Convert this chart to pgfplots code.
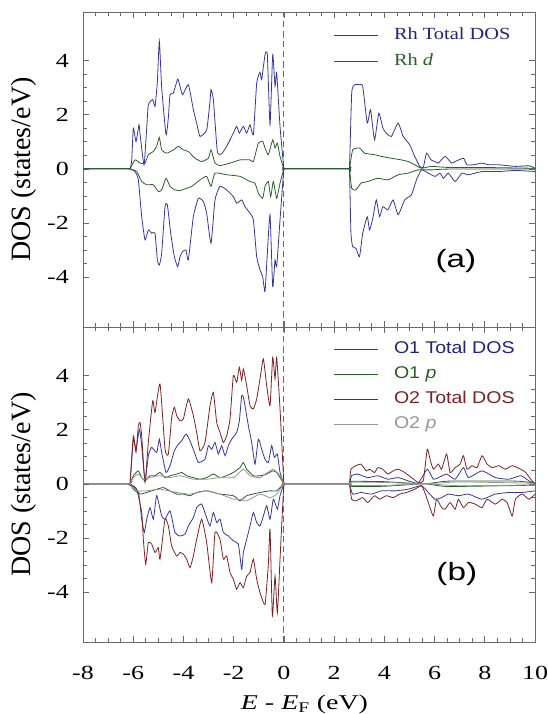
\documentclass[border=0pt]{standalone}
\usepackage{pgfplots}
\pgfplotsset{compat=1.18}
\usepackage{graphicx}
\usepackage{fontspec}
\setmainfont{Liberation Serif}
\newfontfamily\arial{Liberation Sans}
\definecolor{rhblue}{RGB}{55,55,145}
\definecolor{txtblue}{RGB}{35,35,120}
\definecolor{dgreen}{RGB}{40,95,40}
\definecolor{ored}{RGB}{120,35,35}
\definecolor{ogray}{RGB}{150,150,150}
\definecolor{framec}{RGB}{105,105,105}
\pgfplotsset{
 dosaxis/.style={
  scale only axis, width=452pt, height=315pt,
  xmin=-8, xmax=10, ymin=-5.85, ymax=5.8,
  xtick={-8,-6,...,10}, ytick={-4,-2,0,2,4},
  minor x tick num=3, minor y tick num=3,
  tick align=inside, major tick length=6pt, minor tick length=4pt,
  every tick/.style={framec, line width=0.6pt},
  axis line style={framec, line width=0.8pt},
  /pgf/number format/assume math mode=true,
  yticklabel={\scalebox{1.3}[1]{\pgfmathprintnumber{\tick}}},
  yticklabel style={font=\fontsize{20}{24}\selectfont, anchor=east, inner sep=0pt, xshift=-14pt},
  ylabel={DOS (states/eV)},
  ylabel style={font=\fontsize{28}{32}\selectfont, at={(axis description cs:-0.1305,0.5)}, anchor=center},
  legend cell align=left,
  legend image code/.code={\draw[##1, line width=1.1pt] (0pt,-1pt) -- (44pt,-1pt);},
  legend style={draw=none, fill=none, anchor=north west, column sep=9pt},
  every axis plot/.append style={line width=0.8pt, smooth, tension=0.3},
 }
}
\begin{document}
\begin{tikzpicture}
\path[use as bounding box] (0,0) rectangle (547pt,714pt);
% ---------------- panel (a)
\begin{axis}[dosaxis, at={(83pt,387pt)}, anchor=south west, xticklabels={},
  legend style={at={(0.548,0.963)}, row sep=8.9pt, font=\fontsize{17}{20}\selectfont}]
\addplot[forget plot, framec, dashed, dash pattern=on 6pt off 4pt] coordinates {(0,-5.85) (0,5.8)};
\addplot[rhblue] coordinates {(-8,0) (-6.2,0) (-6.128,0) (-6.061,0.3) (-5.995,1.51) (-5.889,1.01) (-5.769,1.63) (-5.729,1.3) (-5.570,0.15) (-5.464,1.5) (-5.398,2.37) (-5.225,2.56) (-5.132,2.31) (-5.040,3.2) (-4.960,4.72) (-4.867,3.0) (-4.694,1.26) (-4.601,1.9) (-4.535,2.74) (-4.402,2.80) (-4.229,3.32) (-4.137,3.05) (-4.030,2.74) (-3.805,3.11) (-3.606,2.19) (-3.473,1.69) (-3.340,1.20) (-3.075,1.44) (-2.942,2.5) (-2.902,2.93) (-2.809,2.56) (-2.650,0.64) (-2.477,0.56) (-2.278,0.83) (-2.013,1.32) (-1.880,1.57) (-1.774,1.32) (-1.614,1.57) (-1.482,1.32) (-1.349,1.63) (-1.216,1.26) (-1.083,3.17) (-0.951,3.57) (-0.884,3.30) (-0.752,4.22) (-0.659,4.22) (-0.552,1.63) (-0.446,4.22) (-0.353,3.05) (-0.287,3.54) (-0.154,1.57) (0,0) (0.06,0) (2.55,0)
(2.61,0) (2.70,2.80) (2.81,3.11) (3.01,3.11) (3.14,3.05) (3.32,1.69) (3.45,2.19) (3.61,1.07) (3.78,2.06) (3.94,1.51) (4.08,1.32) (4.28,1.20) (4.55,1.69) (4.75,1.20) (5.01,0.89) (5.21,0.46) (5.41,0.09) (5.55,0.05) (5.68,0.58) (5.86,0.33) (6.02,0.27) (6.15,0.21) (6.42,0.46) (6.68,0.21) (6.82,0.27) (7.15,0.39) (7.29,0.15) (7.55,0.15) (7.89,0.21) (8.16,0.15) (8.56,0.15) (9.22,0.09) (9.76,0.11) (10,0.02)};
\addlegendentry{\hspace*{4pt}\textcolor{txtblue}{\scalebox{1.2}[1]{Rh Total DOS}}}
\addplot[rhblue, forget plot] coordinates {(-8,0) (-6.2,0) (-6.128,0) (-5.929,-0.10) (-5.796,-0.41) (-5.663,-1.77) (-5.530,-2.63) (-5.398,-2.26) (-5.265,-2.38) (-5.132,-2.38) (-5.039,-3.37) (-4.960,-3.56) (-4.867,-3.12) (-4.734,-1.40) (-4.641,-1.33) (-4.508,-2.38) (-4.362,-3.25) (-4.229,-3.62) (-4.137,-3.25) (-4.030,-3.06) (-3.898,-3.00) (-3.805,-3.37) (-3.606,-1.77) (-3.406,-1.09) (-3.207,-1.21) (-3.075,-1.64) (-2.902,-2.75) (-2.743,-1.15) (-2.544,-0.65) (-2.278,-0.78) (-2.013,-1.03) (-1.880,-1.27) (-1.681,-1.15) (-1.548,-1.40) (-1.349,-1.64) (-1.216,-1.89) (-1.083,-3.25) (-0.951,-3.74) (-0.844,-3.99) (-0.752,-4.54) (-0.659,-3.12) (-0.552,-1.70) (-0.446,-4.36) (-0.353,-3.37) (-0.287,-3.62) (-0.154,-1.89) (0,0) (0.06,0) (2.55,0)
(2.61,0) (2.67,-2.38) (2.74,-2.88) (2.87,-2.94) (3.01,-3.25) (3.14,-2.38) (3.32,-1.77) (3.41,-2.26) (3.54,-1.83) (3.68,-1.15) (3.81,-1.77) (3.94,-1.40) (4.14,-1.52) (4.35,-1.15) (4.55,-1.70) (4.81,-1.15) (5.08,-0.96) (5.28,-0.41) (5.48,-0.04) (5.75,-0.16) (6.02,-0.28) (6.22,-0.16) (6.35,-0.35) (6.55,-0.16) (6.82,-0.47) (7.09,-0.16) (7.35,-0.22) (7.89,-0.10) (8.56,-0.10) (9.22,-0.06) (10,-0.10)};
\addplot[dgreen] coordinates {(-8,0) (-6.2,0) (-6.128,0) (-5.929,0.33) (-5.729,0.21) (-5.530,0.21) (-5.398,0.52) (-5.198,0.64) (-5.066,0.83) (-4.960,1.16) (-4.867,0.70) (-4.668,0.58) (-4.402,0.70) (-4.203,0.83) (-4.004,0.70) (-3.805,0.64) (-3.539,0.39) (-3.274,0.27) (-3.008,0.39) (-2.902,0.70) (-2.743,0.21) (-2.544,0.12) (-2.145,0.21) (-1.747,0.33) (-1.349,0.33) (-1.216,0.27) (-1.017,0.95) (-0.844,1.01) (-0.752,0.77) (-0.619,0.52) (-0.446,1.07) (-0.353,0.77) (-0.260,0.95) (-0.154,0.46) (0,0) (0.06,0) (2.55,0)
(2.61,0) (2.74,0.70) (3.01,0.77) (3.21,0.58) (3.61,0.52) (3.88,0.46) (4.28,0.39) (4.68,0.33) (4.95,0.27) (5.21,0.15) (5.48,0.02) (5.88,0.09) (6.55,0.05) (7.89,0.05) (10,0.02)};
\addlegendentry{\hspace*{4pt}\textcolor{dgreen}{\scalebox{1.2}[1]{Rh \textit{d}}}}
\addplot[dgreen, forget plot] coordinates {(-8,0) (-6.2,0) (-6.128,0) (-5.862,-0.10) (-5.663,-0.47) (-5.464,-0.59) (-5.198,-0.59) (-4.999,-0.84) (-4.867,-0.78) (-4.694,-0.35) (-4.535,-0.65) (-4.336,-0.78) (-4.137,-0.80) (-3.871,-0.72) (-3.672,-0.65) (-3.340,-0.41) (-3.075,-0.28) (-2.902,-0.65) (-2.743,-0.16) (-2.278,-0.22) (-1.747,-0.28) (-1.349,-0.47) (-1.150,-0.53) (-1.017,-0.90) (-0.844,-1.09) (-0.752,-0.65) (-0.619,-0.47) (-0.526,-1.03) (-0.420,-0.47) (-0.287,-1.09) (-0.154,-0.53) (0,0) (0.06,0) (2.55,0)
(2.61,0) (2.70,-0.72) (2.87,-0.78) (3.07,-0.53) (3.34,-0.47) (3.74,-0.35) (4.14,-0.41) (4.55,-0.22) (4.95,-0.16) (5.35,-0.04) (5.88,-0.04) (6.55,-0.01) (10,-0.01)};
\node at (rel axis cs:0.825,0.21) {\arial\fontsize{25}{30}\selectfont\scalebox{1.33}[1]{(a)}};
\end{axis}
% ---------------- panel (b)
\begin{axis}[dosaxis, at={(83pt,72pt)}, anchor=south west,
  xticklabel={\scalebox{1.3}[1]{\pgfmathprintnumber{\tick}}},
  xticklabel style={font=\fontsize{20}{24}\selectfont, anchor=base, yshift=-38pt},
  xlabel={\scalebox{1.33}[1]{\textit{E} - \textit{E}\textsubscript{F} (eV)}},
  xlabel style={font=\fontsize{21}{24}\selectfont, at={(axis description cs:0.49,0)}, anchor=base, yshift=-67pt},
  legend style={at={(0.548,0.968)}, row sep=7.4pt, font=\arial\fontsize{17}{20}\selectfont}]
\addplot[forget plot, framec, dashed, dash pattern=on 6pt off 4pt] coordinates {(0,-5.85) (0,5.8)};
\addplot[rhblue] coordinates {(-8,0) (-6.2,0) (-6.128,0) (-5.995,1.65) (-5.889,1.28) (-5.756,2.02) (-5.663,1.41) (-5.530,0.11) (-5.398,1.04) (-5.265,1.35) (-5.066,1.16) (-4.960,1.65) (-4.867,1.16) (-4.694,0.42) (-4.535,0.67) (-4.362,1.22) (-4.203,1.47) (-4.070,1.59) (-3.898,1.84) (-3.738,1.59) (-3.539,1.10) (-3.406,0.79) (-3.141,0.91) (-3.008,1.41) (-2.875,1.28) (-2.743,1.53) (-2.610,1.10) (-2.477,1.41) (-2.344,1.04) (-2.212,1.41) (-2.079,1.65) (-1.880,1.90) (-1.774,2.33) (-1.681,3.26) (-1.614,3.20) (-1.548,2.89) (-1.415,2.15) (-1.283,1.53) (-1.150,0.73) (-1.017,1.65) (-0.884,1.28) (-0.752,0.91) (-0.619,0.79) (-0.486,1.41) (-0.380,0.98) (-0.260,1.10) (-0.154,0.42) (0,0) (0.06,0) (2.55,0)
(2.61,0) (2.70,0.30) (2.94,0.36) (3.34,0.23) (3.74,0.30) (4.14,0.17) (4.55,0.23) (4.95,0.11) (5.35,0.03) (5.71,0.54) (5.95,0.17) (6.15,0.23) (6.48,0.36) (6.82,0.17) (7.15,0.60) (7.35,0.23) (7.89,0.48) (8.42,0.23) (8.96,0.17) (9.43,0.30) (9.76,0.11) (10,0)};
\addlegendentry{\hspace*{4pt}\textcolor{txtblue}{\scalebox{1.15}[1]{O1 Total DOS}}}
\addplot[rhblue, forget plot] coordinates {(-8,0) (-6.2,0) (-6.128,0) (-5.796,-0.32) (-5.663,-1.31) (-5.557,-1.80) (-5.464,-1.31) (-5.331,-0.88) (-5.198,-1.31) (-5.066,-0.44) (-4.867,-1.19) (-4.734,-1.31) (-4.535,-1.00) (-4.336,-1.80) (-4.137,-1.93) (-3.937,-1.86) (-3.805,-1.56) (-3.606,-1.25) (-3.473,-0.88) (-3.274,-0.75) (-3.075,-1.25) (-2.942,-1.56) (-2.809,-1.06) (-2.676,-1.43) (-2.544,-1.31) (-2.411,-1.80) (-2.212,-1.93) (-2.013,-2.11) (-1.813,-2.23) (-1.681,-3.16) (-1.614,-2.54) (-1.482,-2.05) (-1.349,-1.56) (-1.216,-1.06) (-1.083,-1.43) (-0.951,-1.56) (-0.818,-1.19) (-0.685,-0.81) (-0.552,-1.31) (-0.420,-0.57) (-0.260,-0.94) (-0.154,-0.44) (0,0) (0.06,0) (2.55,0)
(2.61,0) (2.74,-0.38) (3.07,-0.32) (3.48,-0.38) (3.88,-0.26) (4.41,-0.26) (4.95,-0.20) (5.48,-0.07) (5.75,-0.32) (6.02,-0.57) (6.28,-0.51) (6.55,-0.38) (6.95,-0.44) (7.35,-0.38) (7.89,-0.57) (8.42,-0.38) (8.96,-0.32) (9.49,-0.32) (10,-0.26)};
\addplot[dgreen] coordinates {(-8,0) (-6.2,0) (-6.128,0) (-5.995,0.30) (-5.796,0.48) (-5.663,0.23) (-5.530,0.11) (-5.331,0.30) (-5.132,0.30) (-4.933,0.42) (-4.734,0.23) (-4.535,0.30) (-4.269,0.36) (-4.070,0.42) (-3.871,0.30) (-3.606,0.23) (-3.340,0.17) (-3.075,0.23) (-2.809,0.36) (-2.544,0.23) (-2.278,0.30) (-2.013,0.42) (-1.747,0.60) (-1.614,0.79) (-1.482,0.54) (-1.216,0.30) (-0.951,0.30) (-0.685,0.36) (-0.446,0.48) (-0.287,0.42) (-0.154,0.23) (0,0) (0.06,0) (2.55,0)
(2.61,0) (2.67,0.09) (4.0,0.08) (5.6,0.0) (6.55,0.10) (9.22,0.10) (10,0.03)};
\addlegendentry{\hspace*{4pt}\textcolor{dgreen}{\scalebox{1.15}[1]{O1 \textit{p}}}}
\addplot[dgreen, forget plot] coordinates {(-8,0) (-6.2,0) (-6.128,0) (-5.995,-0.20) (-5.729,-0.38) (-5.464,-0.32) (-5.066,-0.20) (-4.800,-0.14) (-4.535,-0.26) (-4.269,-0.38) (-4.004,-0.38) (-3.738,-0.44) (-3.473,-0.32) (-3.075,-0.26) (-2.544,-0.38) (-2.013,-0.44) (-1.747,-0.63) (-1.482,-0.44) (-0.951,-0.32) (-0.552,-0.26) (-0.287,-0.26) (0,0) (0.06,0) (2.55,0)
(2.61,0) (2.70,-0.10) (4.0,-0.09) (5.6,0) (6.55,-0.10) (10,-0.05)};
\addplot[ored] coordinates {(-8,0) (-6.2,0) (-6.128,0) (-5.995,1.78) (-5.889,1.16) (-5.796,2.15) (-5.729,2.27) (-5.663,1.78) (-5.530,0.05) (-5.398,1.53) (-5.225,3.07) (-5.132,2.64) (-4.933,3.69) (-4.734,1.28) (-4.601,1.10) (-4.468,2.46) (-4.362,2.83) (-4.269,2.52) (-4.137,2.33) (-4.004,2.40) (-3.805,3.14) (-3.606,2.52) (-3.473,1.90) (-3.340,1.22) (-3.141,1.53) (-2.942,2.89) (-2.809,3.38) (-2.676,2.27) (-2.544,1.90) (-2.411,1.53) (-2.278,1.78) (-2.145,2.40) (-2.013,4.00) (-1.880,3.75) (-1.774,4.31) (-1.681,3.82) (-1.614,4.25) (-1.482,3.63) (-1.349,2.89) (-1.216,2.77) (-1.083,3.14) (-0.951,3.88) (-0.818,4.62) (-0.685,3.63) (-0.552,2.89) (-0.446,4.68) (-0.353,3.88) (-0.287,4.68) (-0.154,2.77) (0,0) (0.06,0) (2.55,0)
(2.61,0) (2.67,0.54) (2.87,0.67) (3.07,0.73) (3.28,0.48) (3.41,0.54) (3.61,0.42) (3.74,0.60) (3.94,0.54) (4.14,0.36) (4.35,0.48) (4.55,0.54) (4.81,0.42) (5.08,0.23) (5.35,0.05) (5.55,0.11) (5.71,1.28) (5.82,0.91) (5.95,0.54) (6.15,0.73) (6.28,0.54) (6.48,1.10) (6.62,0.42) (6.82,0.60) (7.02,0.73) (7.15,1.04) (7.29,0.54) (7.49,0.67) (7.69,0.60) (7.89,1.04) (8.09,0.73) (8.29,0.60) (8.56,0.67) (8.82,0.54) (9.09,0.67) (9.43,0.54) (9.63,0.42) (9.83,0.17) (10,0)};
\addlegendentry{\hspace*{4pt}\textcolor{ored}{\scalebox{1.15}[1]{O2 Total DOS}}}
\addplot[ored, forget plot] coordinates {(-8,0) (-6.2,0) (-6.128,0) (-5.862,-0.20) (-5.663,-1.06) (-5.597,-2.05) (-5.504,-2.97) (-5.398,-2.17) (-5.265,-2.23) (-5.132,-2.54) (-4.999,-2.36) (-4.933,-2.79) (-4.734,-1.31) (-4.601,-1.56) (-4.468,-2.30) (-4.269,-2.67) (-4.137,-2.54) (-4.004,-2.60) (-3.871,-2.79) (-3.738,-3.10) (-3.606,-2.67) (-3.473,-2.05) (-3.274,-1.31) (-3.075,-2.17) (-2.875,-3.65) (-2.743,-1.80) (-2.544,-2.05) (-2.411,-2.79) (-2.278,-2.67) (-2.145,-3.28) (-2.013,-3.53) (-1.880,-3.90) (-1.747,-3.65) (-1.614,-3.84) (-1.482,-3.41) (-1.349,-3.28) (-1.216,-2.79) (-1.083,-3.53) (-0.951,-4.02) (-0.752,-4.46) (-0.619,-2.97) (-0.552,-1.68) (-0.459,-4.89) (-0.353,-3.41) (-0.260,-4.77) (-0.154,-2.79) (0,0) (0.06,0) (2.55,0)
(2.61,0) (2.70,-0.57) (2.87,-0.63) (3.14,-0.51) (3.34,-0.69) (3.61,-0.44) (3.81,-0.57) (4.08,-0.44) (4.35,-0.51) (4.61,-0.38) (4.88,-0.32) (5.21,-0.20) (5.48,-0.07) (5.61,-0.32) (5.75,-0.69) (5.95,-1.19) (6.08,-0.57) (6.28,-0.88) (6.42,-0.94) (6.62,-0.69) (6.82,-0.94) (6.95,-0.57) (7.15,-0.88) (7.35,-0.69) (7.62,-0.75) (7.89,-0.88) (8.09,-0.57) (8.42,-0.75) (8.69,-0.57) (8.89,-0.69) (9.09,-1.19) (9.22,-0.57) (9.49,-0.38) (9.76,-0.57) (10,-0.38)};
\addplot[ogray] coordinates {(-8,0) (-6.2,0) (-6.128,0) (-5.995,0.23) (-5.796,0.36) (-5.597,0.17) (-5.331,0.23) (-4.933,0.30) (-4.535,0.23) (-4.137,0.30) (-3.606,0.17) (-3.075,0.17) (-2.544,0.23) (-2.013,0.23) (-1.614,0.54) (-1.349,0.30) (-0.951,0.23) (-0.446,0.54) (-0.154,0.30) (0,0) (0.06,0) (2.55,0)
(2.61,0) (2.70,0.06) (4.0,0.05) (5.6,0.0) (7.0,0.07) (10,0.02)};
\addlegendentry{\hspace*{4pt}\textcolor{ogray}{\scalebox{1.15}[1]{O2 \textit{p}}}}
\addplot[ogray, forget plot] coordinates {(-8,0) (-6.2,0) (-6.128,0) (-5.862,-0.26) (-5.464,-0.26) (-4.933,-0.20) (-4.269,-0.32) (-3.738,-0.38) (-3.075,-0.26) (-2.544,-0.38) (-2.013,-0.57) (-1.747,-0.57) (-1.482,-0.63) (-0.951,-0.38) (-0.552,-0.51) (-0.287,-0.38) (0,0) (0.06,0) (2.55,0)
(2.61,0) (2.70,-0.06) (4.0,-0.06) (5.6,0) (7.0,-0.07) (10,-0.04)};
\node at (rel axis cs:0.827,0.216) {\arial\fontsize{25}{30}\selectfont\scalebox{1.33}[1]{(b)}};
\end{axis}
\end{tikzpicture}
\end{document}
